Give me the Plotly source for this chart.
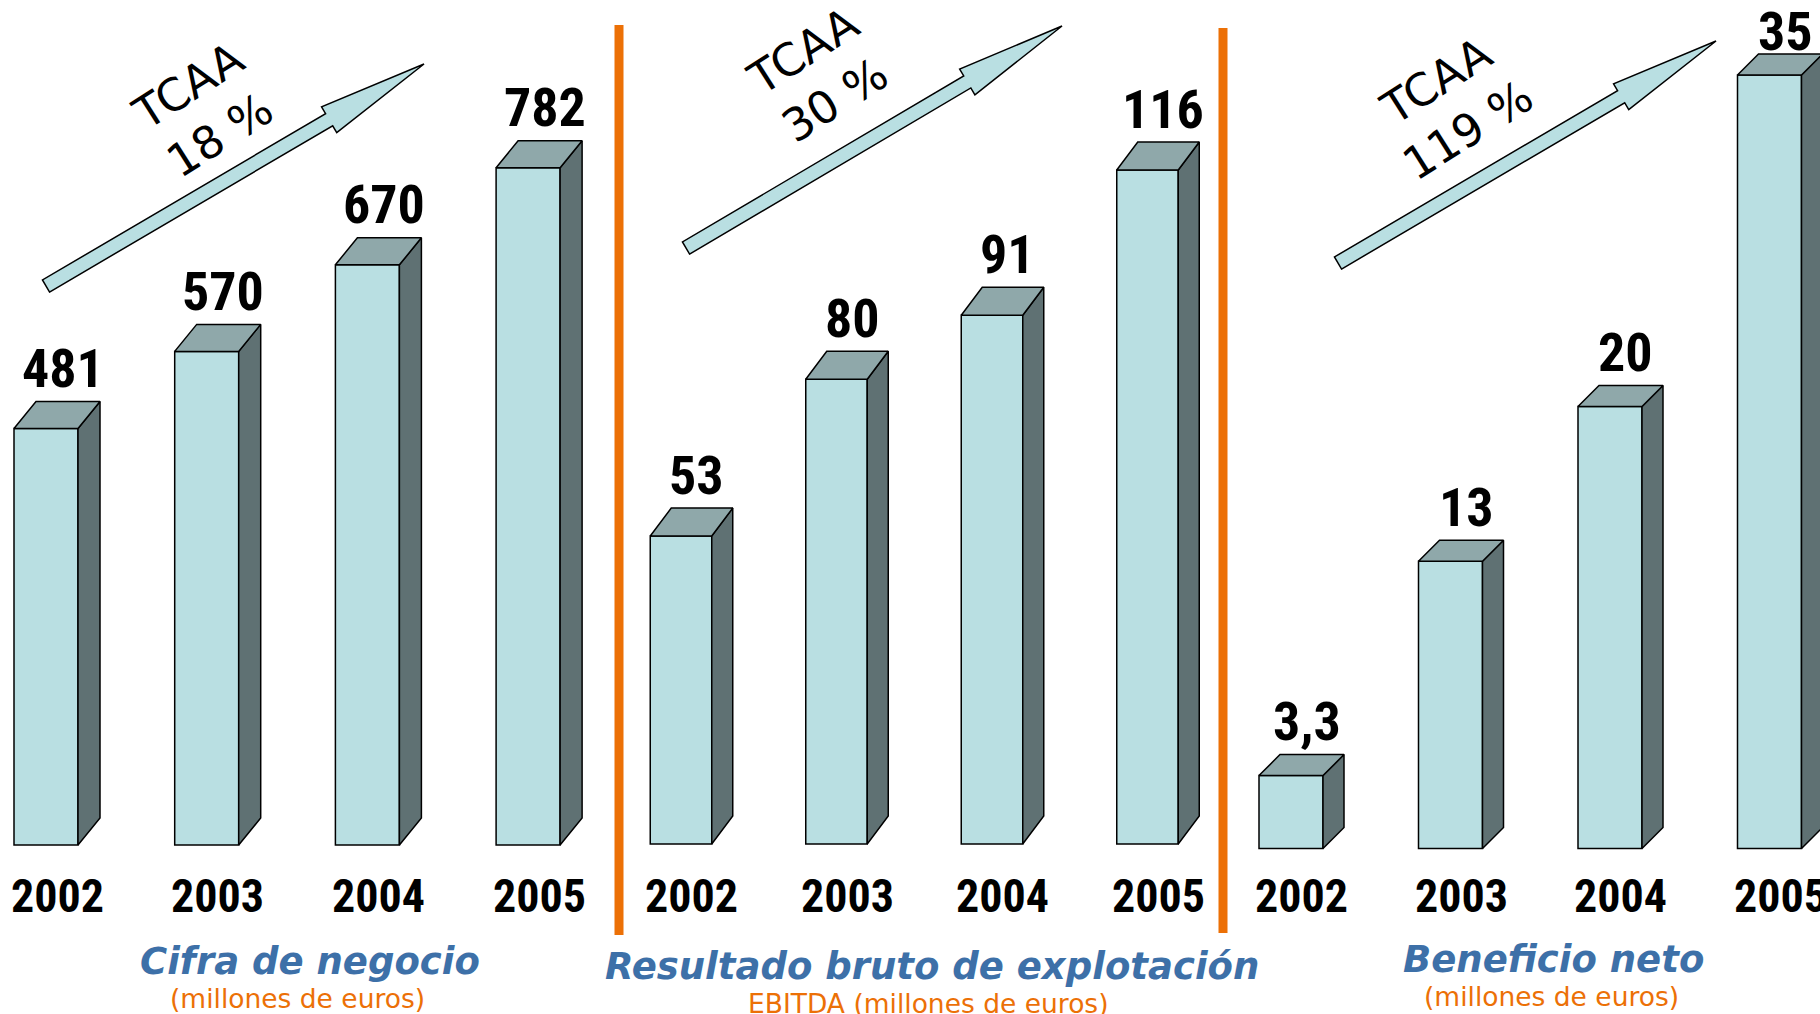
import glob
import math
import plotly.graph_objects as go

# ---------------- data ----------------
years = ["2002", "2003", "2004", "2005"]
cifra_negocio = [481, 570, 670, 782]
ebitda = [53, 80, 91, 116]
beneficio_neto = [3.3, 13, 20, 35]
labels_cifra = ["481", "570", "670", "782"]
labels_ebitda = ["53", "80", "91", "116"]
labels_beneficio = ["3,3", "13", "20", "35"]
tcaa_labels = ["18 %", "30 %", "119 %"]
titles = ["Cifra de negocio", "Resultado bruto de explotación", "Beneficio neto"]
subtitles = ["(millones de euros)", "EBITDA (millones de euros)", "(millones de euros)"]

# ---------------- styling ----------------
W, H = 1820, 1014
FRONT = "#B9DFE2"
TOP = "#8FA8AA"
SIDE = "#5F7173"
ORANGE = "#EC7006"
BLUE = "#3D70A8"
VERDANA = "DejaVu Sans, Verdana, sans-serif"

def has_font(pattern):
    for root in ("/usr/share/fonts", "/usr/local/share/fonts", "/root/.fonts",
                 "/usr/share/fonts/truetype"):
        if glob.glob(f"{root}/**/{pattern}", recursive=True):
            return True
    return False

# condensed bold face for the numbers (Arial Narrow look), with sizes per face
if has_font("LiberationSansNarrow-Bold*"):
    NUM_FONT, VAL_SIZE, YEAR_SIZE = "Liberation Sans Narrow", 56, 47
elif has_font("RobotoCondensed*"):
    NUM_FONT, VAL_SIZE, YEAR_SIZE = "Roboto Condensed", 54, 46
else:
    NUM_FONT, VAL_SIZE, YEAR_SIZE = "Liberation Sans, Arial, sans-serif", 48, 41

panels = [
    dict(values=cifra_negocio, labels=labels_cifra, dom=(0, 619), c0=46, S=160.7, w=64,
         base=845, scale=0.866, dx=22, dy=27,
         arrow=((46, 286), (424, 64)), tcaa=(204, 111),
         title=(310, 961), sub=(297, 998)),
    dict(values=ebitda, labels=labels_ebitda, dom=(619, 1223), c0=681, S=155.5, w=61.5,
         base=844, scale=5.81, dx=21, dy=28,
         arrow=((686, 248), (1062, 26)), tcaa=(819, 76),
         title=(932, 966), sub=(929, 1003)),
    dict(values=beneficio_neto, labels=labels_beneficio, dom=(1223, 1820), c0=1291, S=159.5, w=64,
         base=848.5, scale=22.1, dx=21, dy=21,
         arrow=((1338, 263), (1716, 41)), tcaa=(1452, 106),
         title=(1553, 959), sub=(1551, 996)),
]

fig = go.Figure()
shapes = []
annotations = []
layout_axes = {}

def px(x):
    return x / W

def py(y):
    return 1 - y / H

for k, p in enumerate(panels):
    sfx = "" if k == 0 else str(k + 1)
    xa, ya = "x" + sfx, "y" + sfx
    d0, d1 = p["dom"]
    S = p["S"]
    a = -(p["c0"] - d0) / S
    b = a + (d1 - d0) / S
    vtop = p["base"] / p["scale"]
    vbot = -(H - p["base"]) / p["scale"]
    layout_axes["xaxis" + sfx] = dict(domain=[d0 / W, d1 / W], range=[a, b], visible=False,
                                      anchor=ya, fixedrange=True)
    layout_axes["yaxis" + sfx] = dict(domain=[0, 1], range=[vbot, vtop], visible=False,
                                      anchor=xa, fixedrange=True)
    hw = p["w"] / S / 2
    ddx = p["dx"] / S
    ddy = p["dy"] / p["scale"]
    xs = list(range(len(years)))

    # front faces
    fig.add_trace(go.Bar(x=xs, y=p["values"], width=2 * hw, xaxis=xa, yaxis=ya,
                         marker=dict(color=FRONT, line=dict(color="black", width=1.5)),
                         hoverinfo="skip", showlegend=False))
    for i, v in zip(xs, p["values"]):
        # side face
        fig.add_trace(go.Scatter(
            x=[i + hw, i + hw + ddx, i + hw + ddx, i + hw, i + hw],
            y=[0, ddy, v + ddy, v, 0], mode="lines", fill="toself",
            fillcolor=SIDE, line=dict(color="black", width=1.5),
            xaxis=xa, yaxis=ya, hoverinfo="skip", showlegend=False))
        # top face
        fig.add_trace(go.Scatter(
            x=[i - hw, i + hw, i + hw + ddx, i - hw + ddx, i - hw],
            y=[v, v, v + ddy, v + ddy, v], mode="lines", fill="toself",
            fillcolor=TOP, line=dict(color="black", width=1.5),
            xaxis=xa, yaxis=ya, hoverinfo="skip", showlegend=False))
    # value labels (kept inside the page at the top)
    for i, v, lab in zip(xs, p["values"], p["labels"]):
        top_px = p["base"] - (v + ddy) * p["scale"]
        shift = min(33, top_px - 31)
        annotations.append(dict(x=i + ddx * 0.75, y=v + ddy, xref=xa, yref=ya, text=lab,
                                showarrow=False, xanchor="center", yanchor="middle", yshift=shift,
                                font=dict(family=NUM_FONT, size=VAL_SIZE, color="black",
                                          weight="bold")))
    # year labels
    for i, yr in zip(xs, years):
        annotations.append(dict(x=i + ddx * 0.5, y=py(896), xref=xa, yref="paper", text=yr,
                                showarrow=False, xanchor="center", yanchor="middle",
                                font=dict(family=NUM_FONT, size=YEAR_SIZE, color="black",
                                          weight="bold")))

    # growth arrow
    (tx, ty), (hx, hy) = p["arrow"]
    L = math.hypot(hx - tx, hy - ty)
    ux, uy = (hx - tx) / L, (hy - ty) / L
    nx, ny = -uy, ux
    hs, hh, hl = 7, 15, 110
    bx, by = hx - ux * hl, hy - uy * hl
    pts = [(tx + nx * hs, ty + ny * hs), (bx + nx * hs, by + ny * hs), (bx + nx * hh, by + ny * hh),
           (hx, hy), (bx - nx * hh, by - ny * hh), (bx - nx * hs, by - ny * hs),
           (tx - nx * hs, ty - ny * hs)]
    path = "M " + " L ".join(f"{px(x):.5f},{py(y):.5f}" for x, y in pts) + " Z"
    shapes.append(dict(type="path", path=path, xref="paper", yref="paper",
                       fillcolor=FRONT, line=dict(color="black", width=1.5), layer="above"))
    ang = math.degrees(math.atan2(hy - ty, hx - tx))
    cx, cy = p["tcaa"]
    annotations.append(dict(x=px(cx), y=py(cy), xref="paper", yref="paper",
                            text="TCAA<br>" + tcaa_labels[k], showarrow=False,
                            textangle=ang - 2, xanchor="center", yanchor="middle",
                            font=dict(family=VERDANA, size=45, color="black")))
    # titles
    annotations.append(dict(x=px(p["title"][0]), y=py(p["title"][1]), xref="paper", yref="paper",
                            text=titles[k], showarrow=False, xanchor="center", yanchor="middle",
                            font=dict(family=VERDANA, size=37,
                                      color=BLUE, weight="bold", style="italic")))
    annotations.append(dict(x=px(p["sub"][0]), y=py(p["sub"][1]), xref="paper", yref="paper",
                            text=subtitles[k], showarrow=False, xanchor="center", yanchor="middle",
                            font=dict(family=VERDANA, size=26.5, color=ORANGE)))

# orange separators
for xpix, y0, y1 in [(619, 25, 935), (1223, 28, 933)]:
    shapes.append(dict(type="line", xref="paper", yref="paper", x0=px(xpix), x1=px(xpix),
                       y0=py(y0), y1=py(y1), line=dict(color=ORANGE, width=9)))

fig.update_layout(
    width=W, height=H, margin=dict(l=0, r=0, t=0, b=0),
    paper_bgcolor="white", plot_bgcolor="white",
    showlegend=False, hovermode=False, barmode="overlay",
    shapes=shapes, annotations=annotations, **layout_axes)

fig.write_html("out.html", config={"displayModeBar": False},
               post_script="document.body.style.margin='0';document.body.style.overflow='hidden';")
